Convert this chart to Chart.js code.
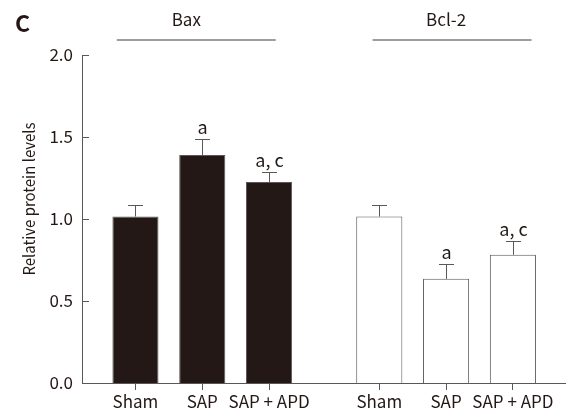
<!DOCTYPE html>
<html>
<head>
<meta charset="utf-8">
<script src="https://cdn.jsdelivr.net/npm/chart.js@4.4.0/dist/chart.umd.min.js"></script>
<style>
  html, body { margin: 0; padding: 0; background: #ffffff; }
  #wrap { width: 581px; height: 419px; }
</style>
</head>
<body>
<div id="wrap"><canvas id="c" width="581" height="419"></canvas></div>
<script>
// ---- data ----
const categories = ['Sham', 'SAP', 'SAP + APD'];
const groupNames = ['Bax', 'Bcl-2'];
const baxMeans   = [1.015, 1.39, 1.225];
const baxSem     = [0.068, 0.097, 0.06];
const bcl2Means  = [1.015, 0.635, 0.782];
const bcl2Sem    = [0.068, 0.092, 0.082];
const baxMarks   = ['', 'a', 'a, c'];
const bcl2Marks  = ['', 'a', 'a, c'];
const yTicks     = [0, 0.5, 1.0, 1.5, 2.0];
const panelLabel = 'C';
const yTitle     = 'Relative protein levels';

// ---- layout / style ----
const FONT = 'Noto Sans CJK SC';
const FS = 17;
const INK = '#231815';
const GREY = '#595757';
const GROUP_GAP = 0.65;
const baxX = categories.map((_, i) => i + 1);
const bcl2X = categories.map((_, i) => i + 1 + categories.length + GROUP_GAP);
const allX = baxX.concat(bcl2X);
const allLabels = categories.concat(categories);

const baxData = baxX.map((x, i) => ({x: x, y: baxMeans[i]}));
const bcl2Data = bcl2X.map((x, i) => ({x: x, y: bcl2Means[i]}));

const extras = {
  id: 'extras',
  afterDatasetsDraw(chart) {
    const ctx = chart.ctx;
    const xs = chart.scales.x, ys = chart.scales.y;
    const area = chart.chartArea;
    ctx.save();
    // inward y ticks
    ctx.strokeStyle = GREY; ctx.lineWidth = 1;
    yTicks.forEach(v => {
      const py = Math.round(ys.getPixelForValue(v)) + 0.5;
      ctx.beginPath(); ctx.moveTo(area.left, py); ctx.lineTo(area.left + 7, py); ctx.stroke();
    });
    // error bars + significance marks
    const sets = [[baxX, baxMeans, baxSem, baxMarks], [bcl2X, bcl2Means, bcl2Sem, bcl2Marks]];
    sets.forEach(([xArr, means, sems, marks]) => {
      xArr.forEach((xv, i) => {
        const px = Math.round(xs.getPixelForValue(xv)) + 0.5;
        const y0 = ys.getPixelForValue(means[i]);
        const y1 = Math.round(ys.getPixelForValue(means[i] + sems[i])) + 0.5;
        ctx.strokeStyle = GREY; ctx.lineWidth = 1;
        ctx.beginPath();
        ctx.moveTo(px, y0); ctx.lineTo(px, y1);
        ctx.moveTo(px - 7.5, y1); ctx.lineTo(px + 7.5, y1);
        ctx.stroke();
        if (marks[i]) {
          ctx.fillStyle = INK;
          ctx.font = '18px "' + FONT + '"';
          ctx.textAlign = 'center'; ctx.textBaseline = 'alphabetic';
          ctx.fillText(marks[i], px, y1 - 6);
        }
      });
    });
    // group headers with lines
    const groups = [[baxX, -0.28, 0.10], [bcl2X, -0.10, 0.28]];
    groups.forEach(([xArr, lo, hi], g) => {
      const x0 = xs.getPixelForValue(xArr[0] + lo);
      const x1 = xs.getPixelForValue(xArr[xArr.length - 1] + hi);
      ctx.strokeStyle = '#7d7d7d'; ctx.lineWidth = 1.5;
      ctx.beginPath(); ctx.moveTo(x0, 40); ctx.lineTo(x1, 40); ctx.stroke();
      ctx.fillStyle = INK;
      ctx.font = FS + 'px "' + FONT + '"';
      ctx.textAlign = 'center'; ctx.textBaseline = 'alphabetic';
      ctx.fillText(groupNames[g], xs.getPixelForValue(xArr[1]) - (g === 0 ? 16 : 0), 26);
    });
    // y-axis title (slightly condensed, sits above the plot's vertical centre)
    ctx.save();
    ctx.translate(29, 199);
    ctx.rotate(-Math.PI / 2);
    ctx.fillStyle = INK;
    ctx.font = '16px "' + FONT + '"';
    const w = ctx.measureText(yTitle).width;
    ctx.scale(Math.min(1, 153 / w), 1);
    ctx.textAlign = 'center'; ctx.textBaseline = 'middle';
    ctx.fillText(yTitle, 0, 0);
    ctx.restore();
    // panel letter
    ctx.fillStyle = INK;
    ctx.font = 'bold 23px "' + FONT + '"';
    ctx.textAlign = 'left'; ctx.textBaseline = 'alphabetic';
    ctx.fillText(panelLabel, 15, 32);
    ctx.restore();
  }
};

new Chart(document.getElementById('c'), {
  type: 'bar',
  data: {
    datasets: [
      { label: groupNames[0], data: baxData, backgroundColor: INK, borderColor: GREY, borderWidth: 1 },
      { label: groupNames[1], data: bcl2Data, backgroundColor: '#ffffff', borderColor: GREY, borderWidth: 1 }
    ]
  },
  options: {
    responsive: false,
    animation: false,
    devicePixelRatio: 1,
    layout: { padding: { top: 55, right: 16, left: 0, bottom: 0 } },
    datasets: { bar: { grouped: false, barPercentage: 0.69, categoryPercentage: 1.0, borderSkipped: 'bottom' } },
    plugins: { legend: { display: false }, tooltip: { enabled: false } },
    scales: {
      x: {
        type: 'linear',
        offset: false,
        min: 0.2, max: 7.43,
        afterBuildTicks: s => { s.ticks = allX.map(v => ({value: v})); },
        afterFit: s => { s.height = 36; },
        ticks: {
          autoSkip: false, maxRotation: 0, minRotation: 0, padding: 1,
          color: INK, font: { family: FONT, size: FS },
          callback: (v, i) => allLabels[i]
        },
        grid: { display: true, offset: false, drawOnChartArea: false, drawTicks: true, tickLength: 7, color: GREY },
        border: { display: true, color: GREY, width: 1 }
      },
      y: {
        min: 0, max: 2,
        afterBuildTicks: s => { s.ticks = yTicks.map(v => ({value: v})); },
        afterFit: s => { s.width = 82; },
        ticks: {
          padding: 9, color: INK, font: { family: FONT, size: FS },
          callback: v => Number(v).toFixed(1)
        },
        grid: { display: false, drawTicks: false },
        border: { display: true, color: GREY, width: 1 },
        title: { display: false }
      }
    }
  },
  plugins: [extras]
});
</script>
</body>
</html>
